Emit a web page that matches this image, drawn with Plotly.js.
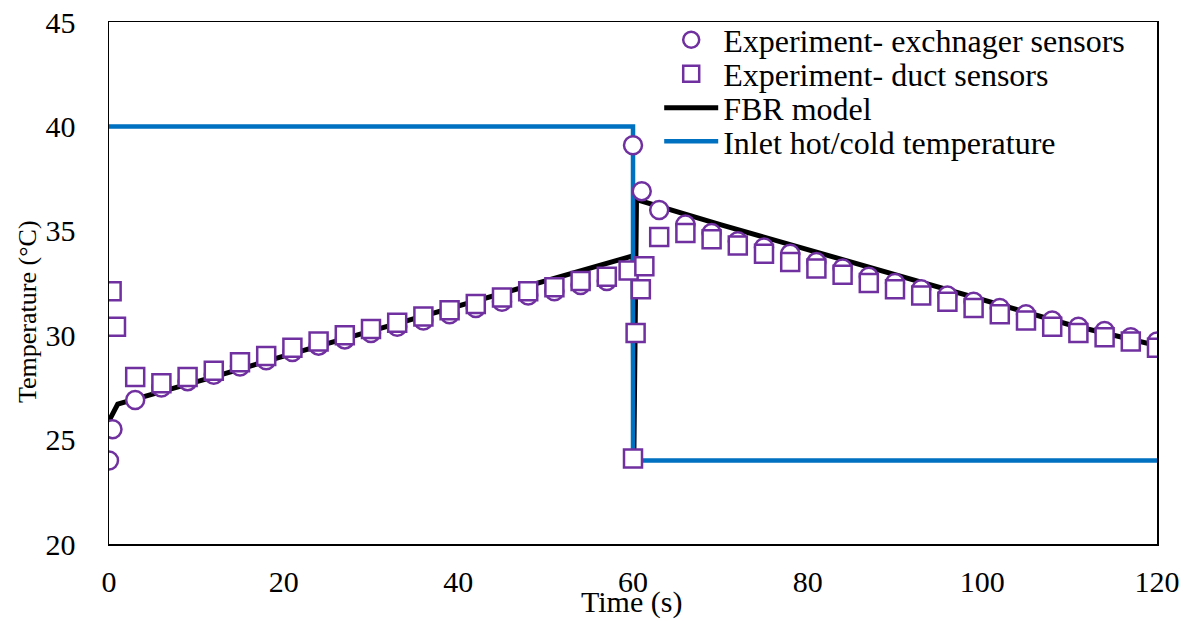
<!DOCTYPE html>
<html>
<head>
<meta charset="utf-8">
<script src="https://cdn.plot.ly/plotly-3.0.1.min.js"></script>
<style>html,body{margin:0;padding:0;background:#fff;}#chart{width:1194px;height:621px;}</style>
</head>
<body>
<div id="chart"></div>
<script>
// Experiment - exchanger sensors (circles)
const exchTime = [0, 0.4, 3, 6, 9, 12, 15, 18, 21, 24, 27, 30, 33, 36, 39, 42, 45, 48, 51, 54, 57, 60, 61, 63, 66, 69, 72, 75, 78, 81, 84, 87, 90, 93, 96, 99, 102, 105, 108, 111, 114, 117, 120];
const exchTemp = [24.0, 25.5, 26.9, 27.5, 27.8, 28.1, 28.5, 28.8, 29.2, 29.5, 29.8, 30.1, 30.4, 30.7, 31.0, 31.3, 31.6, 31.9, 32.1, 32.4, 32.6, 39.1, 36.9, 36.0, 35.3, 34.9, 34.5, 34.2, 33.9, 33.5, 33.2, 32.8, 32.5, 32.2, 31.9, 31.6, 31.3, 31.0, 30.7, 30.4, 30.2, 29.9, 29.7];

// Experiment - duct sensors (squares)
const ductTime = [0.3, 0.8, 3, 6, 9, 12, 15, 18, 21, 24, 27, 30, 33, 36, 39, 42, 45, 48, 51, 54, 57, 59.5, 60, 60.3, 60.9, 61.3, 63, 66, 69, 72, 75, 78, 81, 84, 87, 90, 93, 96, 99, 102, 105, 108, 111, 114, 117, 120];
const ductTemp = [32.1, 30.4, 28.0, 27.7, 28.0, 28.3, 28.7, 29.0, 29.4, 29.7, 30.0, 30.3, 30.6, 30.9, 31.2, 31.5, 31.8, 32.1, 32.3, 32.6, 32.8, 33.1, 24.1, 30.1, 32.2, 33.3, 34.7, 34.9, 34.6, 34.3, 33.9, 33.5, 33.2, 32.9, 32.5, 32.2, 31.9, 31.6, 31.3, 31.0, 30.7, 30.4, 30.1, 29.9, 29.7, 29.4];

// FBR model
const modelTime = [0, 1, 6, 12, 20, 30, 40, 50, 60, 60.1, 60.4, 70, 80, 90, 100, 110, 120];
const modelTemp = [25.9, 26.7, 27.3, 28.0, 29.0, 30.2, 31.4, 32.6, 33.8, 24.3, 36.5, 35.3, 34.1, 32.9, 31.7, 30.5, 29.5];

// Inlet hot/cold temperature
const inletTime = [0, 60, 60, 120];
const inletTemp = [40, 40, 24, 24];

// Axis ticks
const xTicks = [0, 20, 40, 60, 80, 100, 120];
const yTicks = [20, 25, 30, 35, 40, 45];

const purple = '#7030A0';
const traces = [
  {x: modelTime, y: modelTemp, mode: 'lines', name: 'FBR model', legend: 'legend3',
   line: {color: '#000000', width: 5}},
  {x: inletTime, y: inletTemp, mode: 'lines', name: 'Inlet hot/cold temperature', legend: 'legend4',
   line: {color: '#0070C0', width: 4.5}},
  {x: exchTime, y: exchTemp, mode: 'markers', name: 'Experiment- exchnager sensors', legend: 'legend',
   marker: {symbol: 'circle', size: 18, color: '#ffffff', line: {color: purple, width: 2.5}}},
  {x: ductTime, y: ductTemp, mode: 'markers', name: 'Experiment- duct sensors', legend: 'legend2',
   marker: {symbol: 'square', size: 18, color: '#ffffff', line: {color: purple, width: 2.5}}}
];

const font = 'Liberation Serif, Times New Roman, serif';
const plotTop = 22, plotH = 522;
function py(pixel) { return 1 - (pixel - plotTop) / plotH; }
function leg(yPix) {
  return {x: 0.5250, y: py(yPix), xanchor: 'left', yanchor: 'middle', bgcolor: 'rgba(255,255,255,0)',
          borderwidth: 0, itemwidth: 54, font: {family: font, size: 32, color: '#000'}};
}

const layout = {
  width: 1194, height: 621,
  margin: {l: 109, r: 37, t: plotTop, b: 77},
  paper_bgcolor: '#ffffff', plot_bgcolor: '#ffffff',
  font: {family: font, size: 30, color: '#000'},
  showlegend: true,
  legend: leg(40),
  legend2: leg(74),
  legend3: leg(108),
  legend4: leg(141.5),
  xaxis: {range: [0, 120], tickvals: xTicks, ticktext: xTicks.map(String), showgrid: false, zeroline: false,
          showline: true, mirror: true, linecolor: '#000', linewidth: 1.5,
          ticks: 'outside', ticklen: 10, tickcolor: 'rgba(0,0,0,0)',
          tickfont: {family: font, size: 30}},
  yaxis: {range: [20, 45], tickvals: yTicks, ticktext: yTicks.map(String), showgrid: false, zeroline: false,
          showline: true, mirror: true, linecolor: '#000', linewidth: 1.5,
          ticks: 'outside', ticklen: 26, tickcolor: 'rgba(0,0,0,0)',
          tickfont: {family: font, size: 30}},
  annotations: [
    {text: 'Time (s)', xref: 'paper', yref: 'paper', x: 0.499, y: 0, xanchor: 'center', yanchor: 'middle',
     yshift: -58, showarrow: false, font: {family: font, size: 30, color: '#000'}},
    {text: 'Temperature (°C)', xref: 'paper', yref: 'paper', x: 0, y: py(312), xanchor: 'center', yanchor: 'middle',
     xshift: -82, textangle: -90, showarrow: false, font: {family: font, size: 26, color: '#000'}}
  ]
};
Plotly.newPlot('chart', traces, layout, {displayModeBar: false, staticPlot: true});
</script>
</body>
</html>
